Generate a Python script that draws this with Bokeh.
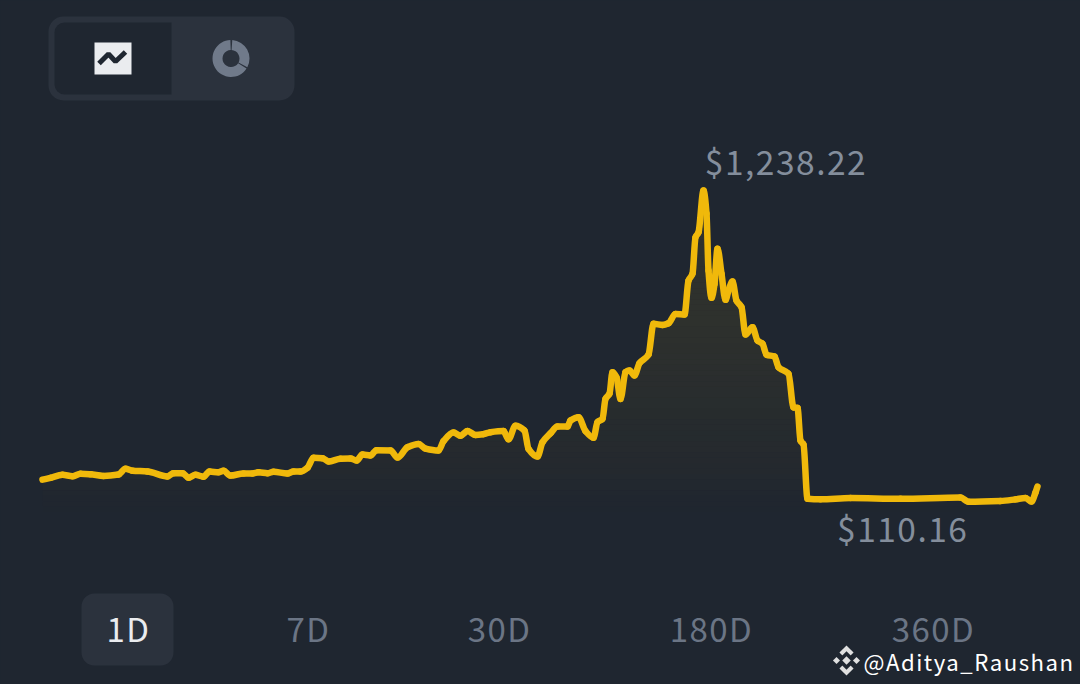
from bokeh.plotting import figure
from bokeh.models import Range1d
from bokeh.core.properties import value
from bokeh.embed import file_html
from bokeh.resources import INLINE
import numpy as np

# ---- data ----
position = [42, 50, 62, 72, 80, 90, 103, 118, 125, 132, 147, 167, 173, 182, 188, 195, 203, 209, 218, 223,
            230, 243, 252, 258, 267, 273, 287, 293, 300, 307, 313, 322, 328, 340, 350, 356, 362, 370, 376, 390,
            397, 407, 418, 425, 438, 443, 453, 460, 467, 475, 483, 490, 503, 508, 515, 524, 528, 537, 542, 550,
            557, 567, 570, 578, 585, 593, 597, 602, 605, 609, 612, 616, 620, 625, 629, 634, 639, 648, 653, 662,
            668, 675, 684, 688, 692, 695, 698, 703, 706, 708, 711, 714, 717, 721, 725, 728, 732, 736, 741, 745,
            752, 757, 762, 766, 774, 778, 788, 793, 797, 800, 803, 807, 820, 850, 900, 960, 968, 1000, 1015, 1025,
            1031, 1035, 1037]
price = [179, 186, 197, 192, 201, 199, 193, 198, 219, 212, 209, 191, 203, 203, 186, 197, 190, 209, 206, 212,
         194, 202, 202, 206, 203, 208, 202, 209, 209, 223, 259, 258, 246, 256, 257, 249, 271, 268, 287, 286,
         260, 298, 310, 293, 286, 320, 352, 340, 357, 343, 346, 353, 357, 327, 377, 359, 292, 264, 316, 349,
         374, 374, 396, 408, 357, 333, 390, 402, 475, 494, 573, 554, 475, 573, 579, 561, 606, 637, 750, 746,
         752, 786, 784, 908, 933, 1067, 1085, 1238.22, 1154, 945, 845, 896, 1025, 933, 838, 872, 905, 835, 811, 711,
         737, 689, 677, 637, 630, 591, 567, 444, 442, 322, 308, 109, 107, 112, 109, 114, 98, 101, 107, 112,
         99, 132, 154]
high_label = "$1,238.22"
low_label = "$110.16"
tabs = ["1D", "7D", "30D", "180D", "360D"]
tab_centres = [126.5, 306.5, 496.8, 708, 930]
credit = "@Aditya_Raushan"

BG = "#1f2630"
PANEL = "#2b323d"
GOLD = "#f0b90b"
FONT = value("Noto Sans CJK SC")

p = figure(width=1080, height=684, output_backend="svg", toolbar_location=None,
           x_range=Range1d(0, 1080), y_range=Range1d(-571.07, 1934.1),
           min_border=0, outline_line_color=None,
           background_fill_color=BG, border_fill_color=BG)
p.axis.visible = False
p.grid.visible = False
p.extra_y_ranges = {"px": Range1d(684, 0)}

# gradient under the line, built from stacked bands of the same series
x = np.array(position, dtype=float)
y = np.array(price, dtype=float)
edges = np.linspace(60, 1240, 60)
for lo, hi in zip(edges[:-1], edges[1:]):
    mid = (lo + hi) / 2
    a = 0.075 * min(1.0, max(0.0, (mid - 60) / 700)) ** 0.8
    top = np.clip(y, lo, hi)
    p.varea(x=x, y1=np.full_like(x, lo), y2=top, fill_color=GOLD, fill_alpha=a)

# smooth stroke through every value, without overshooting them
dx = np.diff(x)
d = np.diff(y) / dx
m = np.zeros_like(y)
same = d[:-1] * d[1:] > 0
m[1:-1][same] = 2 * d[:-1][same] * d[1:][same] / (d[:-1][same] + d[1:][same])
m[0], m[-1] = d[0], d[-1]
p.bezier(x0=x[:-1], y0=y[:-1], x1=x[1:], y1=y[1:],
         cx0=x[:-1] + dx / 3, cy0=y[:-1] + m[:-1] * dx / 3,
         cx1=x[1:] - dx / 3, cy1=y[1:] - m[1:] * dx / 3,
         line_color=GOLD, line_width=6.5, line_cap="round")

# chart / donut switch
p.quad(left=[48], right=[294], top=[16], bottom=[100], y_range_name="px",
       fill_color=PANEL, line_color=None, border_radius=15)
p.quad(left=[54], right=[171], top=[22], bottom=[94], y_range_name="px",
       fill_color=BG, line_color=None, border_radius=(10, 0, 0, 10))
p.quad(left=[94], right=[131], top=[42], bottom=[74], y_range_name="px",
       fill_color="#eaecef", line_color=None)
p.line([98.5, 108, 115, 125], [63, 53.5, 61, 51.5], y_range_name="px",
       line_color=BG, line_width=5)
p.annular_wedge(x=[230.5, 230.5], y=[58, 58], inner_radius=8.5, outer_radius=18.5,
                start_angle=[np.deg2rad(92), np.deg2rad(-28)],
                end_angle=[np.deg2rad(327), np.deg2rad(86)],
                y_range_name="px", fill_color="#707a8a", line_color=None)

# period tabs
p.quad(left=[81], right=[173], top=[593], bottom=[665], y_range_name="px",
       fill_color=PANEL, line_color=None, border_radius=13)
p.text(x=tab_centres, y=[627] * 5, text=tabs, y_range_name="px",
       text_font=FONT, text_font_size="33px", text_align="center", text_baseline="middle",
       text_color=["#eaecef"] + ["#6b7585"] * 4)

# extreme labels
p.text(x=[778.75], y=[160], text=[high_label], y_range_name="px", text_font=FONT, text_font_size="33.5px",
       text_align="center", text_baseline="middle", text_color="#848e9c")
p.text(x=[897], y=[527], text=[low_label], y_range_name="px", text_font=FONT, text_font_size="33.5px",
       text_align="center", text_baseline="middle", text_color="#848e9c")

# watermark
p.scatter(x=[846, 846], y=[652, 668], y_range_name="px", marker="square", angle=np.deg2rad(45),
          size=10, fill_color="#e0e0e0", line_color=None)
p.scatter(x=[846], y=[660], y_range_name="px", marker="square", angle=np.deg2rad(45),
          size=13, fill_color=BG, line_color=None)
p.scatter(x=[846, 836, 856], y=[660, 660, 660], y_range_name="px", marker="square", angle=np.deg2rad(45),
          size=[6, 5, 5], fill_color="#e0e0e0", line_color=None)
p.text(x=[863], y=[660], text=[credit], y_range_name="px", text_font=FONT, text_font_size="22.2px",
       text_align="left", text_baseline="middle", text_color="#ffffff")

style = "<style>html,body{background:%s;letter-spacing:1.5px}</style>" % BG
html = file_html(p, INLINE).replace("<head>", "<head>" + style, 1)
open("out.html", "w").write(html)
